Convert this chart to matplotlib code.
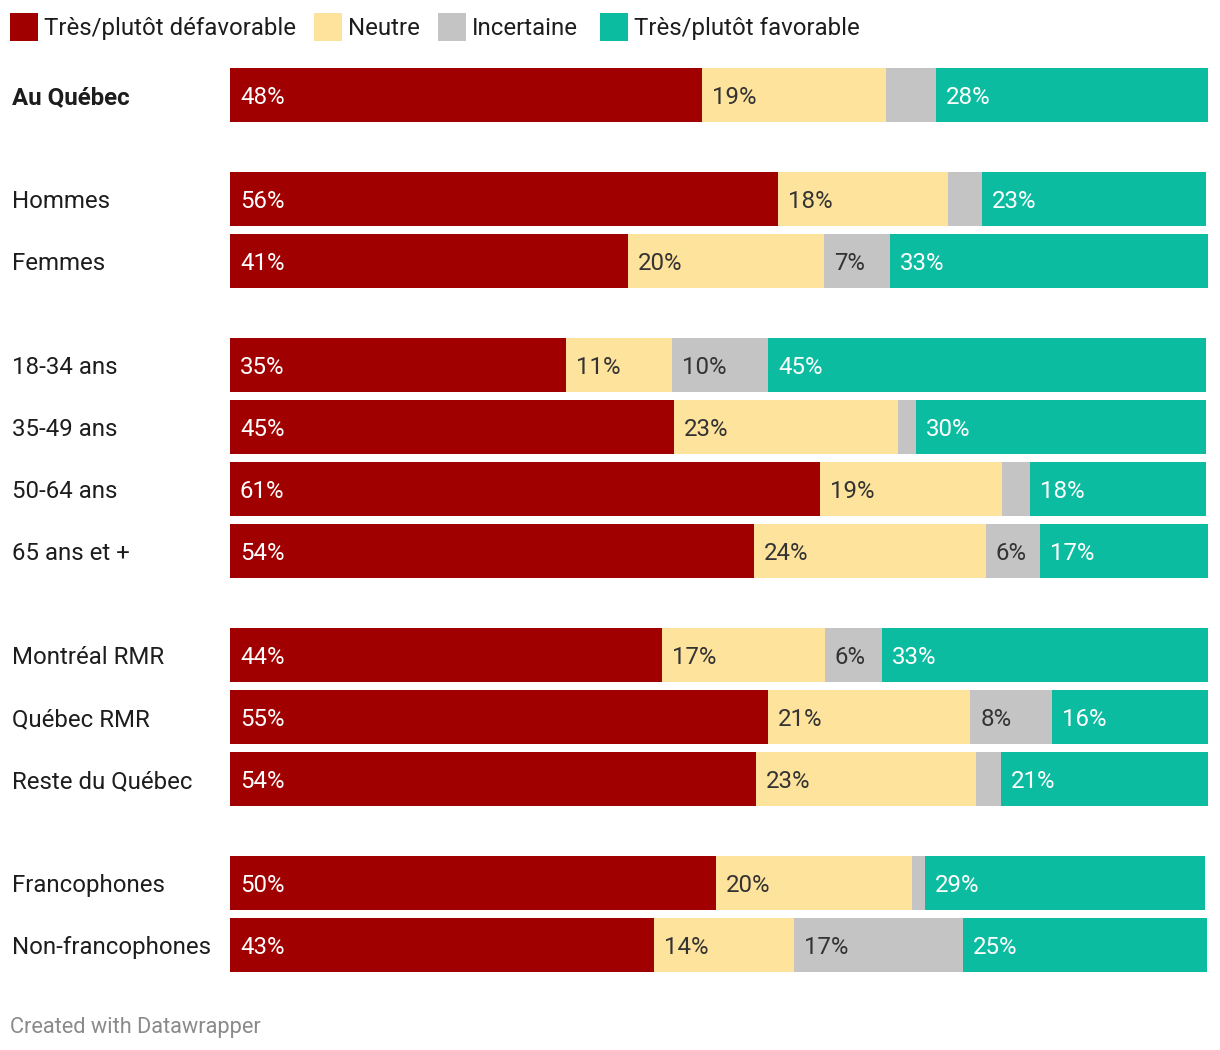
import matplotlib
matplotlib.use("Agg")
import matplotlib.pyplot as plt
from matplotlib.transforms import blended_transform_factory, offset_copy
from matplotlib.patches import Rectangle

plt.rcParams['font.family'] = ['Roboto', 'DejaVu Sans']

categories = ["Au Québec", "Hommes", "Femmes", "18-34 ans", "35-49 ans", "50-64 ans",
              "65 ans et +", "Montréal RMR", "Québec RMR", "Reste du Québec",
              "Francophones", "Non-francophones"]
groups = [0, 1, 1, 2, 2, 2, 2, 3, 3, 3, 4, 4]

series = ["Très/plutôt défavorable", "Neutre", "Incertaine", "Très/plutôt favorable"]
colors = ["#a00000", "#fee39d", "#c4c4c4", "#0cbca1"]
text_colors = ["white", "#333333", "#333333", "white"]

defavorable = [48.3, 56.0, 40.7, 34.4, 45.4, 60.3, 53.6, 44.2, 55.0, 53.8, 49.7, 43.4]
neutre      = [18.8, 17.4, 20.0, 10.8, 22.9, 18.6, 23.7, 16.6, 20.7, 22.5, 20.0, 14.3]
incertaine  = [5.1, 3.5, 6.8, 9.8, 1.8, 2.9, 5.5, 5.9, 8.4, 2.5, 1.4, 17.2]
favorable   = [27.8, 22.9, 32.5, 44.8, 29.7, 18.0, 17.2, 33.3, 15.9, 21.2, 28.6, 25.0]

lab_defavorable = ["48%", "56%", "41%", "35%", "45%", "61%", "54%", "44%", "55%", "54%", "50%", "43%"]
lab_neutre      = ["19%", "18%", "20%", "11%", "23%", "19%", "24%", "17%", "21%", "23%", "20%", "14%"]
lab_incertaine  = ["", "", "7%", "10%", "", "", "6%", "6%", "8%", "", "", "17%"]
lab_favorable   = ["28%", "23%", "33%", "45%", "30%", "18%", "17%", "33%", "16%", "21%", "29%", "25%"]

values = [defavorable, neutre, incertaine, favorable]
labels = [lab_defavorable, lab_neutre, lab_incertaine, lab_favorable]

W, H = 1220, 1050
fig = plt.figure(figsize=(W / 100, H / 100), dpi=100)

# layout (pixels)
row_px, gap_px, bar_px = 62, 42, 54
x0, x1 = 230, 1208
top, bottom = 68, 972
FS = 17.3

ax = fig.add_axes([x0 / W, 1 - bottom / H, (x1 - x0) / W, (bottom - top) / H])
ypos = [i + g * gap_px / row_px for i, g in enumerate(groups)]
h = bar_px / row_px

left = [0.0] * len(categories)
for s, vals in enumerate(values):
    ax.barh(ypos, vals, left=left, height=h, color=colors[s], edgecolor='none')
    tr = offset_copy(ax.transData, fig=fig, x=10, y=0, units='dots')
    for k, (v, l) in enumerate(zip(vals, left)):
        txt = labels[s][k]
        if txt:
            ax.text(l, ypos[k], txt, transform=tr, ha='left', va='center_baseline',
                    fontsize=FS, color=text_colors[s])
    left = [a + b for a, b in zip(left, vals)]

ax.set_xlim(0, 100)
ax.set_ylim(ypos[-1] + h / 2, ypos[0] - h / 2)
ax.axis('off')

# category labels
btr = blended_transform_factory(fig.transFigure, ax.transData)
for k, c in enumerate(categories):
    ax.text(12 / W, ypos[k], c, transform=btr, ha='left', va='center_baseline',
            fontsize=FS, color='#1d1d1d', fontweight='bold' if k == 0 else 'normal')

# legend
leg_x = [10, 314, 438, 600]
ly = 26
for s, name in enumerate(series):
    fig.patches.append(Rectangle((leg_x[s] / W, 1 - 41 / H), 28 / W, 28 / H,
                                 transform=fig.transFigure, facecolor=colors[s],
                                 edgecolor='none'))
    fig.text((leg_x[s] + 34) / W, 1 - ly / H, name, ha='left', va='center_baseline',
             fontsize=FS, color='#1d1d1d')

fig.text(10 / W, 1 - 1025 / H, "Created with Datawrapper", ha='left',
         va='center_baseline', fontsize=15.7, color='#8a8a8a')

fig.savefig("out.png", dpi=100, facecolor='white')
